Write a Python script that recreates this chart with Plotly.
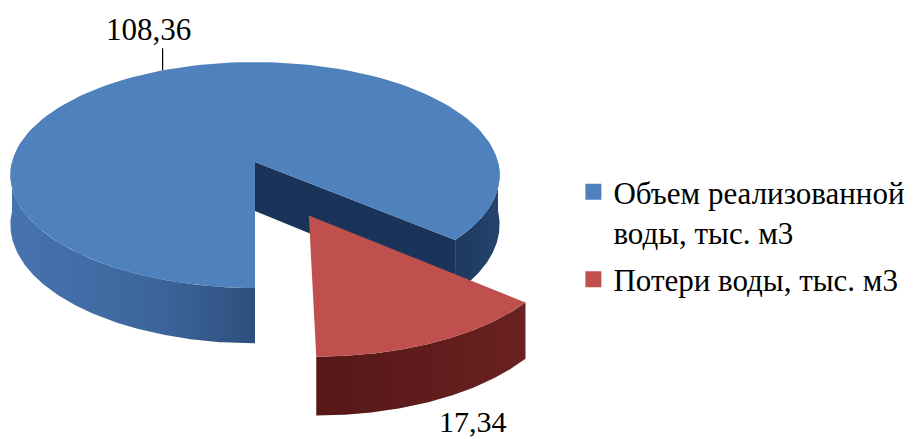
import numpy as np
import plotly.graph_objects as go

# ---- data ----
categories = ["Объем реализованной<br>воды, тыс. м3", "Потери воды, тыс. м3"]
values = [108.36, 17.34]
value_labels = ["108,36", "17,34"]
colors_top = ["#4f81bd", "#c0504d"]

FONT = "Liberation Serif, Times New Roman, DejaVu Serif, serif"

# ---- pseudo-3D pie geometry (pixel space of the plot area) ----
CX, CY = 255, 162      # centre of the pie
A, B = 243, 111.5      # horizontal / depth radii
K = 0.115              # perspective strength
T = 49                 # thickness
START = 90.0           # first slice starts pointing to the viewer, goes clockwise
EXPLODE = [0.0, 0.5]


def proj(X, Z, d=0.0):
    w = 1.0 / (1.0 - K * np.asarray(Z))
    return CX + A * np.asarray(X) * w, CY + (B * np.asarray(Z) + T * d) * w


def rim(t0, t1, ox, oz, d=0.0, n=160):
    t = np.radians(np.linspace(t0, t1, n))
    return proj(ox + np.cos(t), oz + np.sin(t), d)


total = sum(values)
angles = []
a = START
for v in values:
    span = v / total * 360.0
    angles.append((a, a + span))
    a += span

offsets = []
for (t0, t1), e in zip(angles, EXPLODE):
    mid = np.radians((t0 + t1) / 2)
    offsets.append((e * np.cos(mid), e * np.sin(mid)))

fig = go.Figure()


def poly(xs, ys, color, grad=None):
    kw = dict(fill="toself", fillcolor=color)
    if grad is not None:
        kw = dict(fill="toself", fillgradient=dict(type="horizontal", colorscale=grad))
    fig.add_trace(go.Scatter(x=list(xs), y=list(ys), mode="lines", line=dict(width=0),
                             hoverinfo="skip", showlegend=False, **kw))


def side(t0, t1, ox, oz, color, grad=None):
    xt, yt = rim(t0, t1, ox, oz, 0)
    xb, yb = rim(t1, t0, ox, oz, 1)
    poly(np.concatenate([xt, xb]), np.concatenate([yt, yb]), color, grad)


def cut(t, ox, oz, color):
    r = np.radians(t)
    ax0, ay0 = proj(ox, oz, 0)
    ax1, ay1 = proj(ox, oz, 1)
    rx0, ry0 = proj(ox + np.cos(r), oz + np.sin(r), 0)
    rx1, ry1 = proj(ox + np.cos(r), oz + np.sin(r), 1)
    poly([ax0, rx0, rx1, ax1], [ay0, ry0, ry1, ay1], color)


def top(t0, t1, ox, oz, color):
    ax0, ay0 = proj(ox, oz, 0)
    xt, yt = rim(t0, t1, ox, oz, 0)
    poly(np.concatenate([[ax0], xt]), np.concatenate([[ay0], yt]), color)


# big (blue) slice
(b0, b1), (bx, bz) = angles[0], offsets[0]
cut(b1, bx, bz, "#1a3358")
side(360.0, b1, bx, bz, "#22406a", grad=[[0, "#1d385e"], [1, "#25446d"]])
side(b0, 180.0, bx, bz, "#3c6499", grad=[[0, "#4673ae"], [0.6, "#3d659c"], [1, "#2e4f7d"]])
top(b0, b1, bx, bz, colors_top[0])

# exploded (red) slice
(r0, r1), (rx, rz) = angles[1], offsets[1]
side(r0, r1, rx, rz, "#5e1c1c", grad=[[0, "#551717"], [1, "#6a2121"]])
top(r0, r1, rx, rz, colors_top[1])

# legend entries
for i, (name, col) in enumerate(zip(categories, colors_top)):
    fig.add_trace(go.Scatter(x=[None], y=[None], mode="markers", name=name,
                             legendgroup=f"g{i}",
                             marker=dict(symbol="square", size=16, color=col)))

# value labels
m0 = np.radians(sum(angles[0]) / 2)
lx, ly = proj(bx + np.cos(m0), bz + np.sin(m0), 0)
fig.add_shape(type="line", x0=float(lx), x1=float(lx), y0=float(ly), y1=float(ly) - 22,
              line=dict(color="#000", width=1.2))
fig.add_annotation(x=float(lx), y=float(ly), text=value_labels[0], showarrow=False,
                   xshift=-14, yshift=41,
                   font=dict(family=FONT, size=31, color="#000"))
m1 = np.radians(sum(angles[1]) / 2)
lx, ly = proj(rx + np.cos(m1), rz + np.sin(m1), 1)
fig.add_annotation(x=float(lx), y=float(ly), text=value_labels[1], showarrow=False,
                   xshift=37, yshift=-21,
                   font=dict(family=FONT, size=30, color="#000"))

fig.update_layout(
    width=916, height=439,
    margin=dict(l=0, r=0, t=0, b=0),
    paper_bgcolor="white", plot_bgcolor="white",
    xaxis=dict(range=[0, 916], visible=False, fixedrange=True),
    yaxis=dict(range=[439, 0], visible=False, fixedrange=True),
    showlegend=True,
    legend=dict(x=0.626, y=0.624, xanchor="left", yanchor="top", valign="top",
                traceorder="grouped", tracegroupgap=4,
                font=dict(family=FONT, size=31, color="#000"),
                bgcolor="rgba(0,0,0,0)", itemwidth=30),
)

fig.write_html("out.html", config={"displayModeBar": False},
               post_script="document.body.style.margin='0';document.body.style.overflow='hidden';")
